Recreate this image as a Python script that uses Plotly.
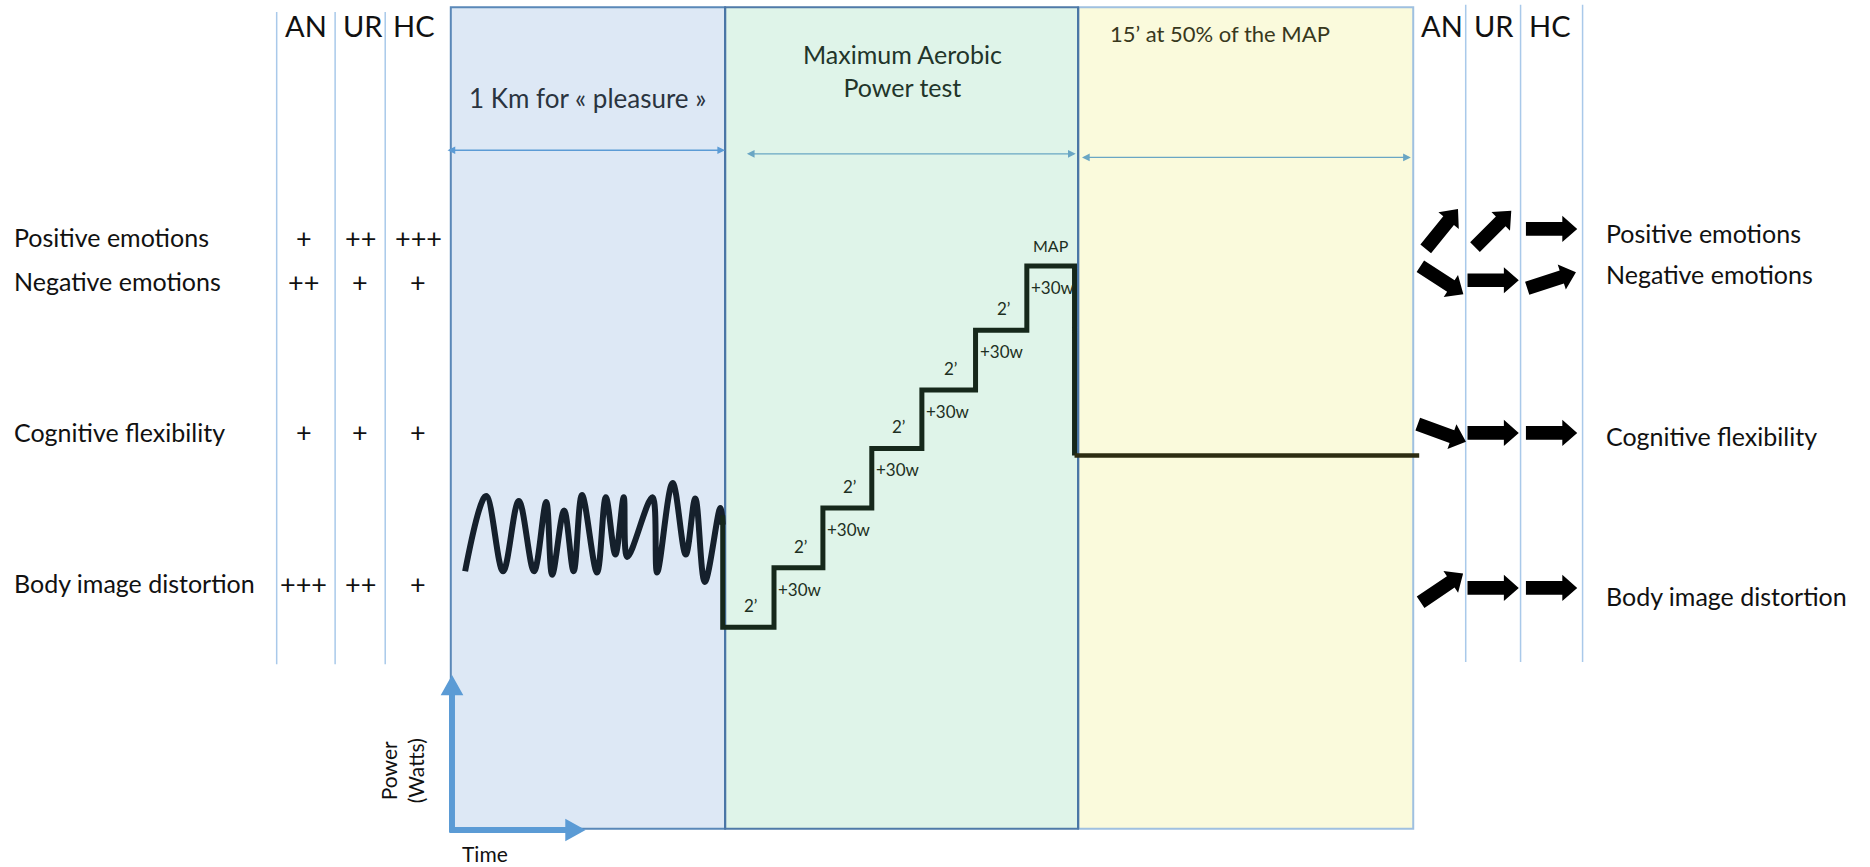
import math
import plotly.graph_objects as go

# ---------------- data ----------------
row_labels = ["Positive emotions", "Negative emotions", "Cognitive flexibility", "Body image distortion"]
groups = ["AN", "UR", "HC"]
baseline_ratings = [
    ["+", "++", "+++"],
    ["++", "+", "+"],
    ["+", "+", "+"],
    ["+++", "++", "+"],
]
# direction of change after exercise (degrees, 0 = unchanged, >0 = increase, <0 = decrease)
change_angles = [
    [51, 45, 0],
    [-33, 0, 18],
    [-20, 0, 0],
    [34, 0, 0],
]
phase_titles = ["1 Km for « pleasure »", "Maximum Aerobic<br>Power test", "15’ at 50% of the MAP"]

# power traces (drawing units, y grows downward)
warmup_time = [390, 407.6, 421.8, 435, 447.8, 458, 463, 473, 481, 488, 500.6, 508, 516, 523, 526,
               547, 551, 564, 575, 583, 591, 604, 606]
warmup_power = [479, 416, 479, 420, 479, 421, 482, 428, 479, 415, 480, 417, 465, 417, 467,
                417, 480, 405, 465, 418, 488, 426, 440]
mapt_time = [606, 606, 649, 690, 731, 773, 818, 861, 901]
mapt_power = [432, 526, 476, 426, 376, 327, 277, 223, 382]
recovery_time = [901, 1190]
recovery_power = [382, 382]
stage_label = "2’"
increment_label = "+30w"
peak_label = "MAP"
axis_labels = ["Power<br>(Watts)", "Time"]

# ---------------- layout constants ----------------
W, H = 1870, 867
XR, YR = 1568, 727
FONT = "Lato"
left_cols = [232, 281, 323, 378]
right_cols = [1185, 1229, 1275, 1327]
phase_x = [378, 608, 904, 1185]
box_top, box_bot = 6, 695
row_y_left = [199, 236, 362, 489]
row_y_right = [195, 230, 366, 500]
arrow_row_y = [192, 235, 363, 493]

fig = go.Figure()
shapes = []
ann = []


def poly_arrow(x0, y0, x1, y1, sw, hw, hl):
    L = math.hypot(x1 - x0, y1 - y0)
    ux, uy = (x1 - x0) / L, (y1 - y0) / L
    nx, ny = -uy, ux
    nkx, nky = x1 - ux * hl, y1 - uy * hl
    pts = [
        (x0 + nx * sw / 2, y0 + ny * sw / 2),
        (nkx + nx * sw / 2, nky + ny * sw / 2),
        (nkx + nx * hw / 2, nky + ny * hw / 2),
        (x1, y1),
        (nkx - nx * hw / 2, nky - ny * hw / 2),
        (nkx - nx * sw / 2, nky - ny * sw / 2),
        (x0 - nx * sw / 2, y0 - ny * sw / 2),
    ]
    return "M " + " L ".join(f"{px:.2f},{py:.2f}" for px, py in pts) + " Z"


# phase boxes
box_fill = ["#dde8f5", "#dff4e9", "#fafadc"]
box_line = ["#5a88b8", "#4f7aa8", "#9fc0e0"]
order = [2, 0, 1]
for i in order:
    shapes.append(dict(type="rect", xref="x", yref="y", x0=phase_x[i], x1=phase_x[i + 1],
                       y0=box_top, y1=box_bot, fillcolor=box_fill[i],
                       line=dict(color=box_line[i], width=2), layer="below"))
for xv in phase_x[1:3]:
    shapes.append(dict(type="line", xref="x", yref="y", x0=xv, x1=xv, y0=box_top, y1=box_bot,
                       line=dict(color="#4a76a6", width=2.2), layer="below"))

# guide lines
for xv in left_cols[:3]:
    shapes.append(dict(type="line", xref="x", yref="y", x0=xv, x1=xv, y0=10, y1=557,
                       line=dict(color="#a9c9ea", width=1.5), layer="below"))
for xv in right_cols[1:]:
    shapes.append(dict(type="line", xref="x", yref="y", x0=xv, x1=xv, y0=4, y1=555,
                       line=dict(color="#a9c9ea", width=1.5), layer="below"))

# headers
for cols in (left_cols, right_cols):
    for j, g in enumerate(groups):
        ann.append(dict(x=cols[j] + 5, y=21, text=g, showarrow=False, xanchor="left", yanchor="middle",
                        font=dict(family=FONT, size=29, color="#111111")))

# row labels, ratings and change arrows
for i, lab in enumerate(row_labels):
    ann.append(dict(x=10, y=row_y_left[i], text=lab, showarrow=False, xanchor="left", yanchor="middle",
                    font=dict(family=FONT, size=25, color="#111111")))
    ann.append(dict(x=1345, y=row_y_right[i], text=lab, showarrow=False, xanchor="left", yanchor="middle",
                    font=dict(family=FONT, size=25, color="#111111")))
    for j in range(3):
        cx = (left_cols[j] + left_cols[j + 1]) / 2 - (2 if j == 0 else 0)
        ann.append(dict(x=cx, y=row_y_left[i], text=baseline_ratings[i][j], showarrow=False,
                        xanchor="center", yanchor="middle",
                        font=dict(family=FONT, size=27, color="#111111")))
        a = math.radians(change_angles[i][j])
        cx2 = (right_cols[j] + right_cols[j + 1]) / 2 + (2 if j == 0 else 0)
        L = 43
        ux, uy = math.cos(a), -math.sin(a)
        path = poly_arrow(cx2 - ux * L / 2, arrow_row_y[i] - uy * L / 2,
                          cx2 + ux * L / 2, arrow_row_y[i] + uy * L / 2, 11.5, 22, 12.5)
        shapes.append(dict(type="path", xref="x", yref="y", path=path, fillcolor="#000000",
                           line=dict(width=0)))

# phase titles
title_pos = [(493, 82), (757, 59), (1023, 28)]
title_size = [26, 25, 22]
title_col = ["#2a3440", "#22352a", "#38381c"]
for i, t in enumerate(phase_titles):
    ann.append(dict(x=title_pos[i][0], y=title_pos[i][1], text=t, showarrow=False,
                    xanchor="center", yanchor="middle",
                    font=dict(family=FONT, size=title_size[i], color=title_col[i])))

# duration double arrows
dbl = [(374, 608, 126, "#5b9bd5"), (625, 902, 129, "#6aa6c4"), (906, 1183, 132, "#6aa6c4")]
for x0, x1, yv, c in dbl:
    ann.append(dict(x=x1, y=yv, ax=x0, ay=yv, axref="x", ayref="y", xref="x", yref="y", text="",
                    showarrow=True, arrowhead=2, arrowside="end+start", arrowsize=1.1,
                    arrowwidth=1.4, arrowcolor=c))

# traces
fig.add_trace(go.Scatter(x=warmup_time, y=warmup_power, mode="lines",
                         line=dict(color="#15202c", width=6, shape="spline", smoothing=1.0),
                         hoverinfo="skip"))
fig.add_trace(go.Scatter(x=mapt_time, y=mapt_power, mode="lines",
                         line=dict(color="#16281b", width=5, shape="hv"), hoverinfo="skip"))
fig.add_trace(go.Scatter(x=recovery_time, y=recovery_power, mode="lines",
                         line=dict(color="#2c2c12", width=4.5), hoverinfo="skip"))

# stair labels
for i in range(1, 7):
    mid = (mapt_time[i] + mapt_time[i + 1]) / 2 + 2
    ann.append(dict(x=mid, y=mapt_power[i] - 18, text=stage_label, showarrow=False,
                    xanchor="center", yanchor="middle", font=dict(family=FONT, size=17, color="#1d2f22")))
for i in range(2, 8):
    ann.append(dict(x=mapt_time[i] + 2, y=mapt_power[i] + 18, text=increment_label, showarrow=False,
                    xanchor="left", yanchor="middle", font=dict(family=FONT, size=17, color="#1d2f22")))
ann.append(dict(x=(mapt_time[7] + mapt_time[8]) / 2, y=mapt_power[7] - 17, text=peak_label,
                showarrow=False, xanchor="center", yanchor="middle",
                font=dict(family=FONT, size=16, color="#1d2f22")))

# power / time axes
ax_c = "#5b9bd5"
shapes.append(dict(type="path", xref="x", yref="y", path=poly_arrow(379, 698, 379, 566, 5, 19, 17),
                   fillcolor=ax_c, line=dict(width=0)))
shapes.append(dict(type="path", xref="x", yref="y", path=poly_arrow(377, 696, 491, 696, 5, 19, 17),
                   fillcolor=ax_c, line=dict(width=0)))
ann.append(dict(x=337, y=646, text=axis_labels[0], showarrow=False, textangle=-90,
                xanchor="center", yanchor="middle", font=dict(family=FONT, size=21, color="#111111")))
ann.append(dict(x=407, y=716, text=axis_labels[1], showarrow=False,
                xanchor="center", yanchor="middle", font=dict(family=FONT, size=21, color="#111111")))

fig.update_layout(
    width=W, height=H, margin=dict(l=0, r=0, t=0, b=0),
    paper_bgcolor="white", plot_bgcolor="white", showlegend=False,
    xaxis=dict(range=[0, XR], visible=False, fixedrange=True),
    yaxis=dict(range=[YR, 0], visible=False, fixedrange=True),
    shapes=shapes, annotations=ann, hovermode=False,
)

fig.write_html("out.html", config={"displayModeBar": False},
               post_script="document.body.style.margin='0';document.body.style.overflow='hidden';")
